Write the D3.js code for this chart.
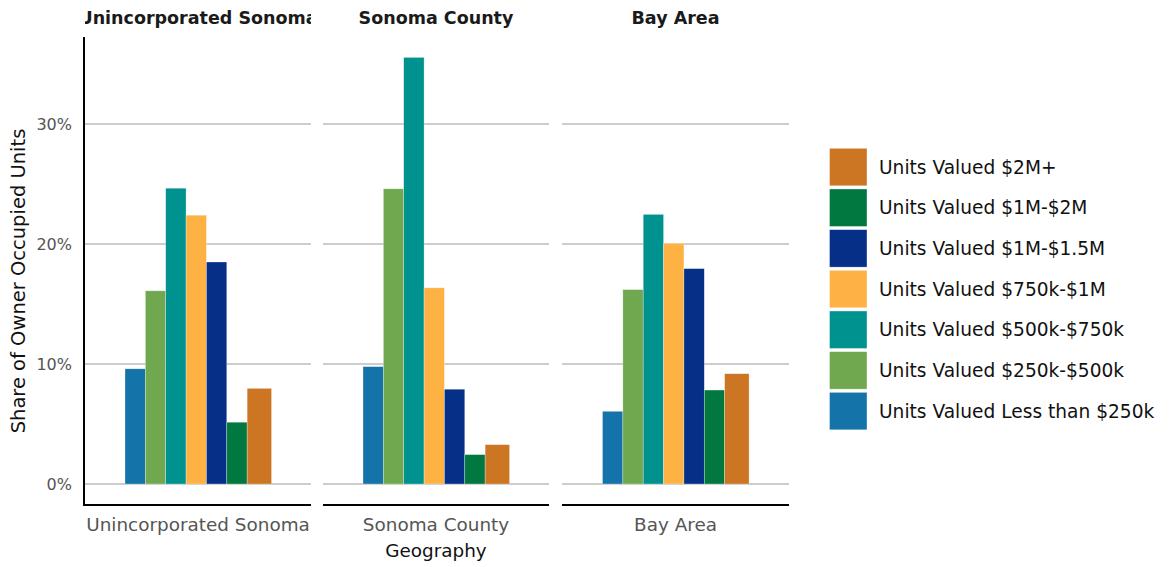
<!DOCTYPE html>
<html><head><meta charset="utf-8">
<script src="https://cdn.jsdelivr.net/npm/d3@7"></script>
<style>body{margin:0;background:#fff;} text{font-family:"DejaVu Sans",sans-serif;}</style>
</head><body><svg id="c" width="1169" height="567"></svg>
<script>
const geographies = ["Unincorporated Sonoma", "Sonoma County", "Bay Area"];
const categories = ["Units Valued Less than $250k","Units Valued $250k-$500k","Units Valued $500k-$750k","Units Valued $750k-$1M","Units Valued $1M-$1.5M","Units Valued $1M-$2M","Units Valued $2M+"];
const colors = ["#1473A8","#70A84F","#00928E","#FDB243","#062F87","#00783F","#CC7522"];
const valuesUnincorporated = [9.6, 16.1, 24.65, 22.4, 18.5, 5.15, 7.97];
const valuesSonomaCounty = [9.78, 24.6, 35.55, 16.35, 7.9, 2.45, 3.28];
const valuesBayArea = [6.06, 16.2, 22.47, 20.06, 17.95, 7.83, 9.19];
const yTicks = [0, 10, 20, 30];
const allValues = [valuesUnincorporated, valuesSonomaCounty, valuesBayArea];

const svg = d3.select("#c");
const y = d3.scaleLinear().domain([-1.75, 37.25]).range([505, 37]);
const panels = [[85,311],[323,549],[562,789]];
const defs = svg.append("defs");

geographies.forEach((g, i) => {
  const [x0, x1] = panels[i];
  const cx = (x0 + x1) / 2;
  const gp = svg.append("g");
  gp.selectAll("line.grid").data(yTicks).join("line")
    .attr("x1", x0).attr("x2", x1)
    .attr("y1", d => y(d)).attr("y2", d => y(d))
    .attr("stroke", "#bdbdbd").attr("stroke-width", 1.5);
  const xb = d3.scaleBand().domain(categories).range([cx - 73, cx - 73 + 142.5]).padding(0);
  gp.selectAll("rect").data(allValues[i]).join("rect")
    .attr("x", (d, j) => xb(categories[j]))
    .attr("width", (d, j) => j === categories.length - 1 ? xb.bandwidth() * 1.2 : xb.bandwidth())
    .attr("y", d => y(d)).attr("height", d => y(0) - y(d))
    .attr("fill", (d, j) => colors[j])
    .attr("stroke", "rgba(255,255,255,0.5)").attr("stroke-width", 0.6);
  gp.append("line").attr("x1", i === 0 ? 83 : x0).attr("x2", x1).attr("y1", 505).attr("y2", 505)
    .attr("stroke", "#000").attr("stroke-width", 2);
  gp.append("text").attr("x", cx).attr("y", 531).attr("text-anchor", "middle")
    .attr("font-size", 18.4).attr("fill", "#555").text(g);
  defs.append("clipPath").attr("id", "clip" + i).append("rect")
    .attr("x", x0).attr("y", 0).attr("width", x1 - x0).attr("height", 35);
  gp.append("text").attr("x", cx).attr("y", 24).attr("text-anchor", "middle")
    .attr("clip-path", `url(#clip${i})`)
    .attr("font-size", 17.5).attr("font-weight", "bold").attr("fill", "#1a1a1a").text(g);
});

svg.append("line").attr("x1", 84).attr("x2", 84).attr("y1", 37).attr("y2", 506)
  .attr("stroke", "#000").attr("stroke-width", 2);
svg.selectAll("text.ytick").data(yTicks).join("text").attr("class", "ytick")
  .attr("x", 72).attr("y", d => y(d)).attr("dy", "0.35em").attr("text-anchor", "end")
  .attr("font-size", 16).attr("fill", "#555").text(d => d + "%");
svg.append("text").attr("transform", "translate(24.5,281) rotate(-90)").attr("text-anchor", "middle")
  .attr("font-size", 19.5).attr("fill", "#111").text("Share of Owner Occupied Units");
svg.append("text").attr("x", 436).attr("y", 557).attr("text-anchor", "middle")
  .attr("font-size", 18.4).attr("fill", "#111").text("Geography");

const legendOrder = categories.map((c, j) => j).reverse();
const lg = svg.append("g");
legendOrder.forEach((j, k) => {
  const yy = 148.3 + k * 40.67;
  lg.append("rect").attr("x", 829.5).attr("y", yy).attr("width", 37.5).attr("height", 37.5)
    .attr("fill", colors[j]).attr("stroke", "rgba(255,255,255,0.6)").attr("stroke-width", 0.6);
  lg.append("text").attr("x", 879).attr("y", yy + 18.75).attr("dy", "0.35em")
    .attr("font-size", 18.6).attr("fill", "#111").text(categories[j]);
});
</script></body></html>
